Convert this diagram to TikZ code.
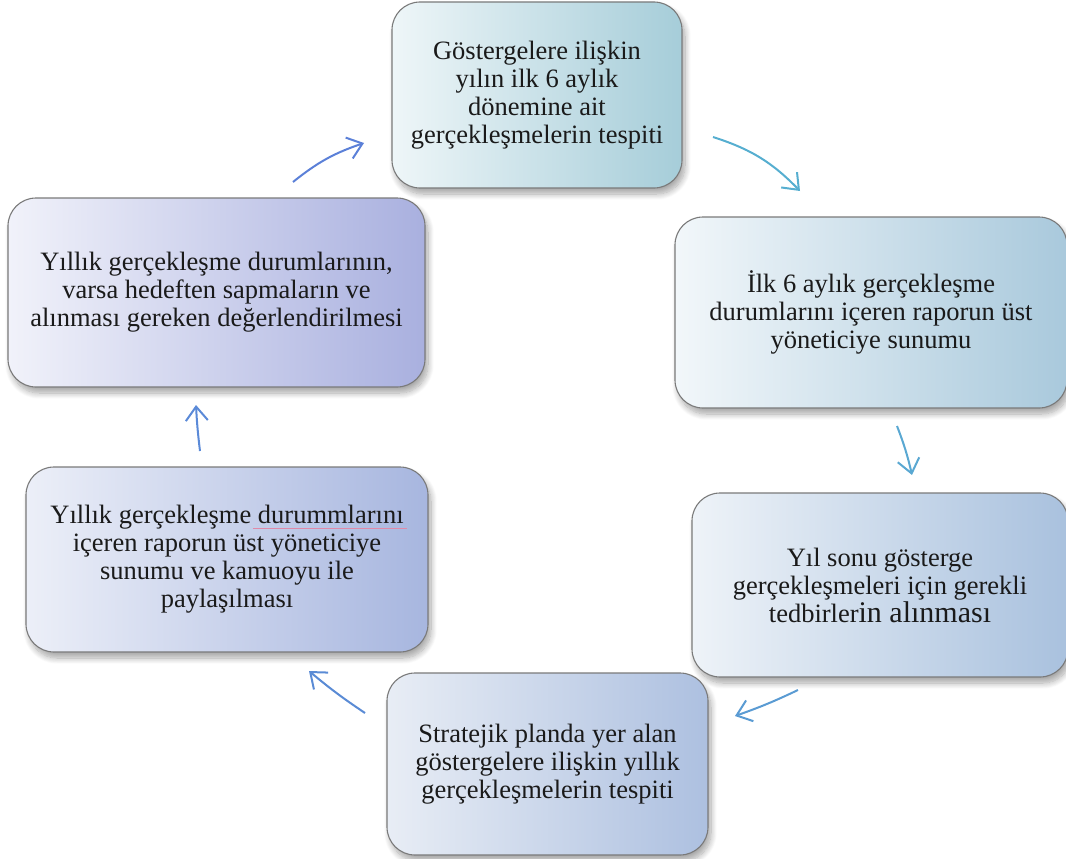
\documentclass[tikz,border=0pt]{standalone}
\usepackage{fontspec}
\setmainfont{Liberation Serif}
\usetikzlibrary{arrows.meta,shadows.blur}
\definecolor{bordergray}{HTML}{7A7A7A}
\definecolor{aone}{HTML}{5B80D8}
\definecolor{atwo}{HTML}{56AED0}
\definecolor{athree}{HTML}{5AA8D2}
\definecolor{afour}{HTML}{5A9BD3}
\definecolor{afive}{HTML}{5A8BD5}
\definecolor{asix}{HTML}{5B8AD8}
\definecolor{spellpink}{HTML}{E08AA8}
\definecolor{textcol}{HTML}{1A1A1A}
\definecolor{lone}{HTML}{EEF6F8}\definecolor{rone}{HTML}{A6CDD9}
\definecolor{ltwo}{HTML}{F2F7FA}\definecolor{rtwo}{HTML}{A9C9DC}
\definecolor{lthree}{HTML}{EEF3F8}\definecolor{rthree}{HTML}{A9C1DE}
\definecolor{lfour}{HTML}{E8EDF5}\definecolor{rfour}{HTML}{ADC0E0}
\definecolor{lfive}{HTML}{ECEFF8}\definecolor{rfive}{HTML}{A7B6DF}
\definecolor{lsix}{HTML}{F1F2FA}\definecolor{rsix}{HTML}{A9B0DF}
\tikzset{
  box/.style 2 args={draw=bordergray, line width=1.1pt, rounded corners=28pt,
    left color=#1, right color=#2, inner sep=0pt, align=center, text=textcol,
    font=\fontsize{26.5}{28}\selectfont,
    blur shadow={shadow xshift=3pt, shadow yshift=-6pt, shadow blur steps=10, shadow opacity=35, shadow blur radius=6pt}},
  flow/.style={line width=2pt, -{Straight Barb[length=14pt,width=22pt,line width=2pt]}}
}
\begin{document}
\begin{tikzpicture}[x=1pt,y=-1pt]
\useasboundingbox (0,0) rectangle (1066,859);
\node[box={lone}{rone}, minimum width=290pt, minimum height=186pt] (b1) at (537,95)
  {Göstergelere ilişkin\\yılın ilk 6 aylık\\dönemine ait\\gerçekleşmelerin tespiti};
\node[box={ltwo}{rtwo}, minimum width=392pt, minimum height=191pt] (b2) at (871,312.5)
  {İlk 6 aylık gerçekleşme\\durumlarını içeren raporun üst\\yöneticiye sunumu};
\node[box={lthree}{rthree}, minimum width=376pt, minimum height=184pt] (b3) at (880,585)
  {Yıl sonu gösterge\\gerçekleşmeleri için gerekli\\tedbirler{\fontsize{30}{28}\selectfont in alınması}};
\node[box={lfour}{rfour}, minimum width=321pt, minimum height=182pt] (b4) at (547.5,764)
  {Stratejik planda yer alan\\göstergelere ilişkin yıllık\\gerçekleşmelerin tespiti};
\node[box={lfive}{rfive}, minimum width=402pt, minimum height=185pt] (b5) at (227,559.5)
  {Yıllık gerçekleşme durummlarını\\içeren raporun üst yöneticiye\\sunumu ve kamuoyu ile\\paylaşılması};
\node[box={lsix}{rsix}, minimum width=417pt, minimum height=189pt] (b6) at (216.5,292.5)
  {Yıllık gerçekleşme durumlarının,\\varsa hedeften sapmaların ve\\alınması gereken değerlendirilmesi};
% spell-check underline
\coordinate (u1) at (253,528);
\coordinate (u2) at (407,528);
\draw[spellpink, line width=0.8pt] (u1) -- (u2);
% arrow end points
\coordinate (a1s) at (293,182); \coordinate (a1e) at (364,143);
\coordinate (a2s) at (713,137); \coordinate (a2e) at (800,191);
\coordinate (a3s) at (897,426); \coordinate (a3e) at (912,475);
\coordinate (a4s) at (798,690); \coordinate (a4e) at (735,716);
\coordinate (a5s) at (365,713); \coordinate (a5e) at (309,671);
\coordinate (a6s) at (200,451); \coordinate (a6e) at (196,405);
\draw[flow, aone] (a1s) to[bend left=10] (a1e);
\draw[flow, atwo] (a2s) to[bend left=14] (a2e);
\draw[flow, athree] (a3s) to[bend left=4] (a3e);
\draw[flow, afour] (a4s) to[bend left=3] (a4e);
\draw[flow, afive] (a5s) to[bend left=3] (a5e);
\draw[flow, asix] (a6s) to[bend left=2] (a6e);
\end{tikzpicture}
\end{document}
